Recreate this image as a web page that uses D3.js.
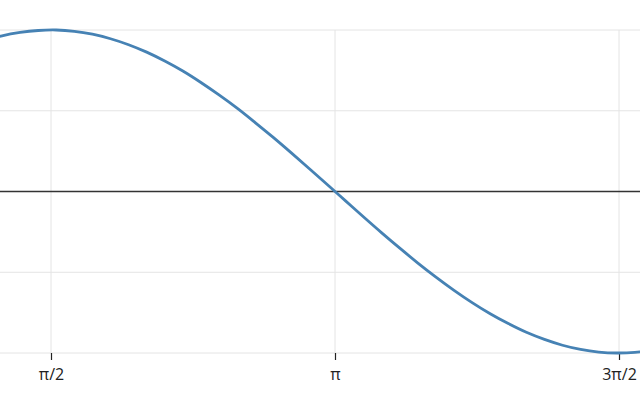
<!DOCTYPE html>
<html>
<head>
<meta charset="utf-8">
<script src="https://cdn.jsdelivr.net/npm/d3@7.9.0/dist/d3.min.js"></script>
<style>
  body { margin: 0; background: #fff; }
  svg { display: block; font-family: "Open Sans", sans-serif; }
</style>
</head>
<body>
<svg width="640" height="400"></svg>
<script>
// values (x in radians)
const xs = [1.2, 1.3, 1.4, 1.5, 1.6, 1.7, 1.8, 1.9, 2.0, 2.1, 2.2, 2.3, 2.4, 2.5,
  2.6, 2.7, 2.8, 2.9, 3.0, 3.1, 3.2, 3.3, 3.4, 3.5, 3.6, 3.7, 3.8, 3.9, 4.0,
  4.1, 4.2, 4.3, 4.4, 4.5, 4.6, 4.7, 4.8, 4.9];
const ys = [0.932, 0.964, 0.985, 0.997, 1.000, 0.992, 0.974, 0.946, 0.909, 0.863,
  0.808, 0.746, 0.675, 0.598, 0.516, 0.427, 0.335, 0.239, 0.141, 0.042, -0.058,
  -0.158, -0.256, -0.351, -0.443, -0.530, -0.612, -0.688, -0.757, -0.818, -0.872,
  -0.916, -0.952, -0.978, -0.994, -1.000, -0.996, -0.982];
const xTicks = [Math.PI / 2, Math.PI, 3 * Math.PI / 2];
const xTickLabels = ['π/2', 'π', '3π/2'];
const yTicks = [-1, -0.5, 0, 0.5, 1];

const svg = d3.select('svg');
const W = 640;

let x = d3.scaleLinear().domain([Math.PI / 2, 3 * Math.PI / 2]).range([51, 619]);
let y = d3.scaleLinear().domain([-1, 1]).range([353, 30]);

// horizontal grid
svg.append('g')
  .selectAll('line')
  .data(yTicks.filter(d => d !== 0))
  .join('line')
  .attr('x1', 0).attr('x2', W)
  .attr('y1', d => y(d)).attr('y2', d => y(d))
  .attr('stroke', '#e4e4e4').attr('stroke-width', 1);

// vertical grid
svg.append('g')
  .selectAll('line')
  .data(xTicks)
  .join('line')
  .attr('x1', d => x(d)).attr('x2', d => x(d))
  .attr('y1', y(1)).attr('y2', y(-1))
  .attr('stroke', '#e4e4e4').attr('stroke-width', 1);

// zero line
svg.append('line')
  .attr('x1', 0).attr('x2', W)
  .attr('y1', y(0)).attr('y2', y(0))
  .attr('stroke', '#333').attr('stroke-width', 1.5);

// x axis ticks + labels
let xAxis = d3.axisBottom(x)
  .tickValues(xTicks)
  .tickFormat((d, i) => xTickLabels[i])
  .tickSize(7)
  .tickPadding(9);
let gx = svg.append('g')
  .attr('transform', `translate(0,${y(-1)})`)
  .call(xAxis);
gx.select('.domain').remove();
gx.selectAll('line').attr('stroke', '#222').attr('stroke-width', 1.2);
gx.selectAll('text')
  .attr('fill', '#222')
  .style('font-size', '16px')
  .style('font-family', '"Open Sans", sans-serif');

// the curve
const pts = xs.map((d, i) => [d, ys[i]]);
let line = d3.line()
  .x(d => x(d[0]))
  .y(d => y(d[1]))
  .curve(d3.curveCatmullRom);
svg.append('path')
  .datum(pts)
  .attr('d', line)
  .attr('fill', 'none')
  .attr('stroke', '#4682b4')
  .attr('stroke-width', 2.8);
</script>
</body>
</html>
